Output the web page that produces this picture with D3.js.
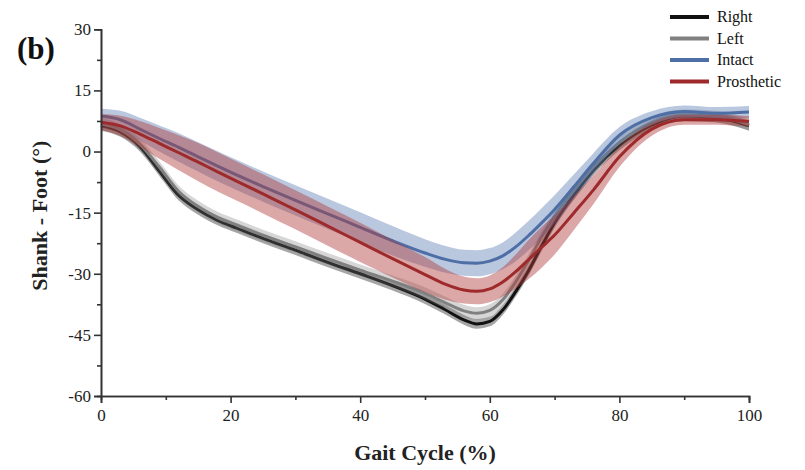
<!DOCTYPE html>
<html>
<head>
<meta charset="utf-8">
<script src="https://cdn.jsdelivr.net/npm/d3@7"></script>
<style>
  body { margin: 0; background: #fff; }
  svg { font-family: "Liberation Serif", "DejaVu Serif", serif; }
</style>
</head>
<body>
<svg id="chart" width="805" height="470"></svg>
<script>
// gait cycle sample points (%)
const gait = [0, 3, 6, 9, 12, 15, 18, 21, 25, 30, 35, 40, 45, 50, 53, 56, 58, 60, 62, 64, 66, 68, 70, 73, 76, 80, 85, 90, 95, 100];

// mean curves (deg)
const right = [6.3, 4.8, 1.2, -4.8, -10.8, -14.3, -16.9, -18.8, -21.3, -24.2, -27.2, -30.0, -32.9, -36.2, -38.7, -41.3, -42.3, -41.7, -38.9, -34.4, -29.2, -23.2, -17.5, -10.6, -4.6, 1.5, 6.5, 8.7, 8.3, 6.3];
const left = [6.8, 5.3, 1.8, -3.8, -9.8, -13.5, -16.2, -18.1, -20.6, -23.4, -26.3, -29.1, -31.8, -34.8, -37.0, -39.1, -39.7, -39.0, -36.4, -32.0, -26.7, -21.0, -15.8, -9.5, -3.8, 2.2, 7.0, 8.9, 8.6, 6.6];
const intact = [8.7, 7.8, 5.5, 3.2, 1.0, -1.3, -3.6, -5.8, -8.6, -12.0, -15.3, -18.6, -21.9, -24.9, -26.4, -27.3, -27.4, -26.9, -25.6, -23.4, -20.6, -17.5, -14.2, -8.6, -2.9, 4.0, 8.3, 9.8, 9.4, 9.7];
const prosthetic = [7.2, 6.3, 4.3, 2.0, -0.3, -2.6, -5.0, -7.3, -10.4, -14.3, -18.3, -22.3, -26.3, -30.2, -32.5, -34.0, -34.3, -33.7, -32.0, -29.5, -26.5, -23.5, -20.5, -15.0, -9.4, -1.3, 5.5, 7.8, 7.8, 7.4];

// standard deviation half widths (deg)
const rightSd = [1.2, 1.2, 1.2, 1.2, 1.2, 1.2, 1.2, 1.2, 1.2, 1.2, 1.2, 1.2, 1.2, 1.2, 1.2, 1.2, 1.2, 1.2, 1.2, 1.2, 1.2, 1.2, 1.2, 1.2, 1.2, 1.2, 1.2, 1.2, 1.2, 1.2];
const leftSd = [1.4, 1.4, 1.4, 1.4, 1.4, 1.4, 1.4, 1.4, 1.4, 1.4, 1.4, 1.4, 1.4, 1.5, 1.5, 1.5, 1.5, 1.5, 1.5, 1.5, 1.5, 1.5, 1.5, 1.4, 1.4, 1.4, 1.4, 1.4, 1.4, 1.4];
const intactSd = [1.8, 2.2, 2.8, 3.2, 3.5, 3.6, 3.7, 3.7, 3.7, 3.7, 3.7, 3.7, 3.6, 3.4, 3.3, 3.2, 3.2, 3.2, 3.3, 3.5, 3.6, 3.6, 3.5, 3.0, 2.5, 2.0, 1.6, 1.5, 1.5, 1.5];
const prostheticSd = [2.0, 2.5, 3.2, 3.8, 4.3, 4.7, 4.8, 4.8, 4.8, 4.8, 4.8, 4.8, 4.6, 4.3, 3.8, 3.3, 3.2, 3.3, 3.6, 4.2, 4.8, 5.0, 4.8, 4.2, 3.5, 2.5, 1.6, 1.2, 1.2, 1.3];

const seriesNames = ['Right', 'Left', 'Intact', 'Prosthetic'];
const xTicks = [0, 20, 40, 60, 80, 100];
const yTicks = [30, 15, 0, -15, -30, -45, -60];

const series = [
  {name: 'Right', mean: right, sd: rightSd, line: '#111111', band: 'rgba(0,0,0,0.35)'},
  {name: 'Left', mean: left, sd: leftSd, line: '#808080', band: 'rgba(120,120,120,0.3)'},
  {name: 'Intact', mean: intact, sd: intactSd, line: '#4e6ea6', band: 'rgba(80,115,175,0.4)'},
  {name: 'Prosthetic', mean: prosthetic, sd: prostheticSd, line: '#9e2a2b', band: 'rgba(175,60,60,0.45)'}
];

const svg = d3.select('#chart');
const margin = {top: 29.3, left: 101, right: 56, bottom: 74};
const width = 805 - margin.left - margin.right,
  height = 470 - margin.top - margin.bottom;

const x = d3.scaleLinear().domain([0, 100]).range([margin.left, margin.left + width]);
const y = d3.scaleLinear().domain([-60, 30]).range([margin.top + height, margin.top]);

const g = svg.append('g');

// bands + lines, in drawing order
series.forEach(function(s) {
  const pts = gait.map((d, i) => ({x: d, m: s.mean[i], sd: s.sd[i]}));
  const area = d3.area()
    .curve(d3.curveMonotoneX)
    .x((d) => x(d.x))
    .y0((d) => y(d.m - d.sd))
    .y1((d) => y(d.m + d.sd));
  const line = d3.line()
    .curve(d3.curveMonotoneX)
    .x((d) => x(d.x))
    .y((d) => y(d.m));

  g.append('path').datum(pts)
    .attr('d', area)
    .attr('fill', s.band)
    .attr('stroke', 'none');
  g.append('path').datum(pts)
    .attr('d', line)
    .attr('fill', 'none')
    .attr('stroke', s.line)
    .attr('stroke-width', 3);
});

// axes
const axisColor = '#333';
const yAxis = svg.append('g')
  .attr('transform', `translate(${margin.left},0)`)
  .call(d3.axisLeft(y).tickValues(yTicks).tickSize(7).tickPadding(3).tickFormat((d) => String(d)));
const yMinor = svg.append('g')
  .attr('transform', `translate(${margin.left},0)`)
  .call(d3.axisLeft(y).tickValues(d3.range(-52.5, 30, 15)).tickSize(4).tickFormat(''));

const xAxis = svg.append('g')
  .attr('transform', `translate(0,${margin.top + height})`)
  .call(d3.axisBottom(x).tickValues(xTicks).tickSize(7).tickPadding(6));
const xMinor = svg.append('g')
  .attr('transform', `translate(0,${margin.top + height})`)
  .call(d3.axisBottom(x).tickValues([10, 30, 50, 70, 90]).tickSize(4).tickFormat(''));

[yAxis, yMinor, xAxis, xMinor].forEach(function(a) {
  a.select('.domain').attr('stroke', axisColor).attr('stroke-width', 1.6);
  a.selectAll('.tick line').attr('stroke', axisColor).attr('stroke-width', 1.6);
  a.selectAll('.tick text')
    .attr('fill', '#222')
    .style('font-family', '"Liberation Serif", serif')
    .style('font-size', '17px');
});

// axis titles
svg.append('text')
  .attr('x', x(50))
  .attr('y', 460)
  .attr('text-anchor', 'middle')
  .style('font-weight', 'bold')
  .style('font-size', '22px')
  .attr('fill', '#222')
  .text('Gait Cycle (%)');

svg.append('text')
  .attr('transform', `translate(47,${y(-15) + 3}) rotate(-90)`)
  .attr('text-anchor', 'middle')
  .style('font-weight', 'bold')
  .style('font-size', '22px')
  .attr('fill', '#222')
  .text('Shank - Foot (°)');

// panel label
svg.append('text')
  .attr('x', 17)
  .attr('y', 59)
  .style('font-weight', 'bold')
  .style('font-size', '31px')
  .attr('fill', '#111')
  .text('(b)');

// legend
const legend = svg.append('g').attr('transform', 'translate(670,17)');
series.forEach(function(s, i) {
  const row = legend.append('g').attr('transform', `translate(0,${i * 21.5})`);
  row.append('line')
    .attr('x1', 0).attr('x2', 39)
    .attr('y1', 0).attr('y2', 0)
    .attr('stroke', s.line)
    .attr('stroke-width', 4);
  row.append('text')
    .attr('x', 47)
    .attr('y', 5)
    .style('font-size', '16px')
    .attr('fill', '#111')
    .text(seriesNames[i]);
});
</script>
</body>
</html>
